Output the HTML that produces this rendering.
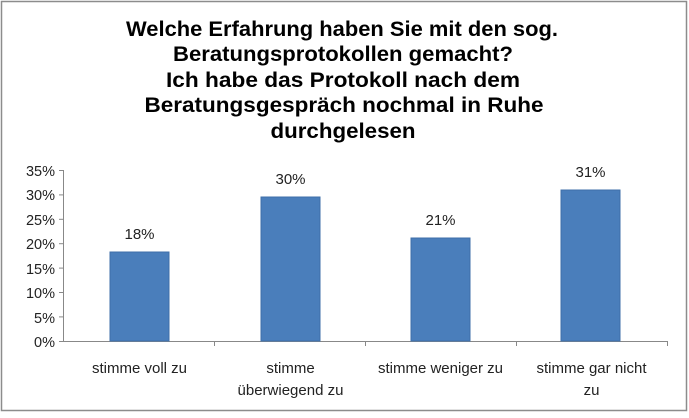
<!DOCTYPE html>
<html><head><meta charset="utf-8"><style>
html,body{margin:0;padding:0;background:#fff;}
body{width:689px;height:413px;overflow:hidden;}
</style></head><body>
<svg width="689" height="413" xmlns="http://www.w3.org/2000/svg" font-family="Liberation Sans, sans-serif">
<rect x="1.5" y="1.5" width="685" height="409" fill="#fff" stroke="#8c8c8c" stroke-width="1.5"/>
<g font-weight="bold" font-size="21" text-anchor="middle" fill="#000">
<text x="342" y="36" textLength="432" lengthAdjust="spacingAndGlyphs">Welche Erfahrung haben Sie mit den sog.</text>
<text x="343" y="61" textLength="340" lengthAdjust="spacingAndGlyphs">Beratungsprotokollen gemacht?</text>
<text x="343" y="87" textLength="354" lengthAdjust="spacingAndGlyphs">Ich habe das Protokoll nach dem</text>
<text x="344" y="112" textLength="399" lengthAdjust="spacingAndGlyphs">Beratungsgespräch nochmal in Ruhe</text>
<text x="343" y="138" textLength="145" lengthAdjust="spacingAndGlyphs">durchgelesen</text>
</g>
<g font-size="14.5" text-anchor="end" fill="#222">
<text x="55" y="176">35%</text>
<text x="55" y="200">30%</text>
<text x="55" y="225">25%</text>
<text x="55" y="249">20%</text>
<text x="55" y="274">15%</text>
<text x="55" y="298">10%</text>
<text x="55" y="323">5%</text>
<text x="55" y="347">0%</text>
</g>
<g stroke="#888" stroke-width="1">
<line x1="63.5" y1="170" x2="63.5" y2="341"/>
<line x1="59" y1="170.5" x2="63" y2="170.5"/>
<line x1="59" y1="194.9" x2="63" y2="194.9"/>
<line x1="59" y1="219.3" x2="63" y2="219.3"/>
<line x1="59" y1="243.7" x2="63" y2="243.7"/>
<line x1="59" y1="268.1" x2="63" y2="268.1"/>
<line x1="59" y1="292.5" x2="63" y2="292.5"/>
<line x1="59" y1="316.9" x2="63" y2="316.9"/>
<line x1="59" y1="341.5" x2="667" y2="341.5"/>
<line x1="214.5" y1="341" x2="214.5" y2="346"/>
<line x1="365.5" y1="341" x2="365.5" y2="346"/>
<line x1="516.5" y1="341" x2="516.5" y2="346"/>
<line x1="667.5" y1="341" x2="667.5" y2="346"/>
</g>
<g fill="#4a7ebb" stroke="#3f6fa8" stroke-width="1">
<rect x="110" y="252" width="59" height="89"/>
<rect x="261" y="197" width="59" height="144"/>
<rect x="411" y="238" width="59" height="103"/>
<rect x="561" y="190" width="59" height="151"/>
</g>
<g font-size="15" text-anchor="middle" fill="#222">
<text x="139.5" y="239">18%</text>
<text x="290.5" y="184">30%</text>
<text x="440.5" y="225">21%</text>
<text x="590.5" y="177">31%</text>
<text x="139.5" y="373">stimme voll zu</text>
<text x="290.5" y="373">stimme</text>
<text x="290.5" y="395">überwiegend zu</text>
<text x="440.5" y="373">stimme weniger zu</text>
<text x="591.5" y="373">stimme gar nicht</text>
<text x="591.5" y="395">zu</text>
</g>
</svg>
</body></html>
